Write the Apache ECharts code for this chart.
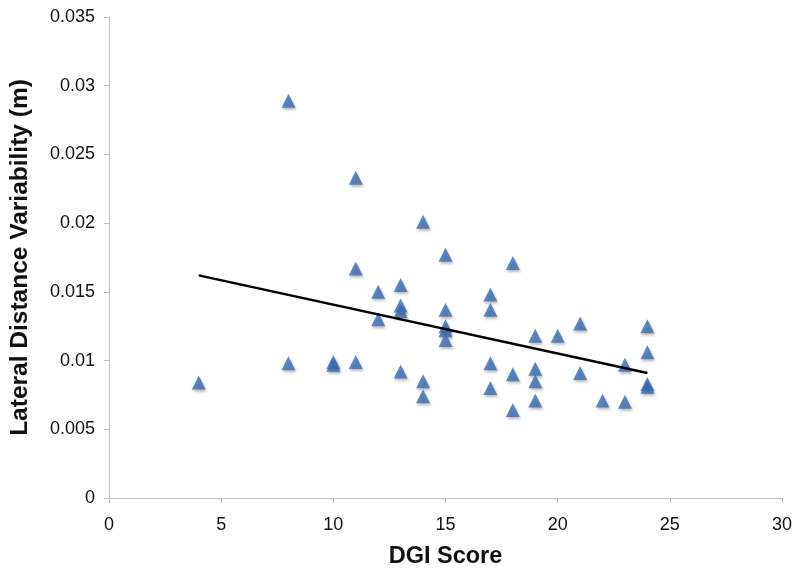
<!DOCTYPE html>
<html><head><meta charset="utf-8">
<script src="https://cdn.jsdelivr.net/npm/echarts@6/dist/echarts.min.js"></script>
<style>html,body{margin:0;padding:0;background:#fff}#c{width:800px;height:578px}</style>
</head><body><div id="c"></div>
<script>
const dgiScores = [4, 8, 8, 10, 10, 11, 11, 11, 12, 12, 13, 13, 13, 13, 14, 14, 14, 15, 15, 15, 15, 15, 17, 17, 17, 17, 18, 18, 18, 19, 19, 19, 19, 20, 21, 21, 22, 23, 23, 24, 24, 24, 24];
const lateralVariability = [0.0084, 0.0289, 0.0098, 0.0099, 0.0097, 0.0233, 0.0167, 0.0099, 0.0150, 0.0130, 0.0155, 0.0140, 0.0136, 0.0092, 0.0201, 0.0085, 0.0074, 0.0177, 0.0137, 0.0125, 0.0122, 0.0115, 0.0148, 0.0137, 0.0098, 0.0080, 0.0171, 0.0090, 0.0064, 0.0118, 0.0094, 0.0085, 0.0071, 0.0118, 0.0127, 0.0091, 0.0071, 0.0097, 0.0070, 0.0125, 0.0106, 0.0083, 0.0081];
const trendX = [4, 24];
const trendY = [0.0162, 0.0091];
const xTicks = [0, 5, 10, 15, 20, 25, 30];
const yTicks = [0, 0.005, 0.01, 0.015, 0.02, 0.025, 0.03, 0.035];

const chart = echarts.init(document.getElementById('c'));
const font = 'Liberation Sans, Arial, sans-serif';
chart.setOption({
  animation: false,
  grid: {left: 108, right: 18, top: 17, bottom: 80},
  xAxis: {
    type: 'value', min: xTicks[0], max: xTicks[xTicks.length-1], interval: 5,
    name: 'DGI Score', nameLocation: 'middle', nameGap: 47,
    nameTextStyle: {fontFamily: font, fontWeight: 'bold', fontSize: 23.5, color: '#111'},
    axisLine: {lineStyle: {color: '#bfbfbf'}},
    axisTick: {show: true, length: 5, lineStyle: {color: '#bfbfbf'}},
    axisLabel: {fontFamily: font, fontSize: 18, color: '#111', margin: 18},
    splitLine: {show: false}
  },
  yAxis: {
    type: 'value', min: yTicks[0], max: yTicks[yTicks.length-1], interval: 0.005,
    name: 'Lateral Distance Variability (m)', nameLocation: 'middle', nameGap: 76,
    nameTextStyle: {fontFamily: font, fontWeight: 'bold', fontSize: 24.5, color: '#111'},
    axisLine: {show: true, lineStyle: {color: '#bfbfbf'}},
    axisTick: {show: true, length: 5, lineStyle: {color: '#bfbfbf'}},
    axisLabel: {fontFamily: font, fontSize: 18, color: '#111', margin: 14,
      formatter: v => String(+v.toFixed(3))},
    splitLine: {show: false}
  },
  series: [
    {
      type: 'scatter', symbol: 'triangle', symbolSize: 14,
      itemStyle: {color: '#3a6db5', shadowColor: 'rgba(0,0,0,0.35)', shadowBlur: 3, shadowOffsetX: 1, shadowOffsetY: 2},
      data: dgiScores.map((x, i) => [x, lateralVariability[i]]),
      z: 2
    },
    {
      type: 'line', symbol: 'none',
      lineStyle: {color: '#000', width: 2.5},
      data: trendX.map((x, i) => [x, trendY[i]]),
      z: 3
    }
  ]
});
</script></body></html>
